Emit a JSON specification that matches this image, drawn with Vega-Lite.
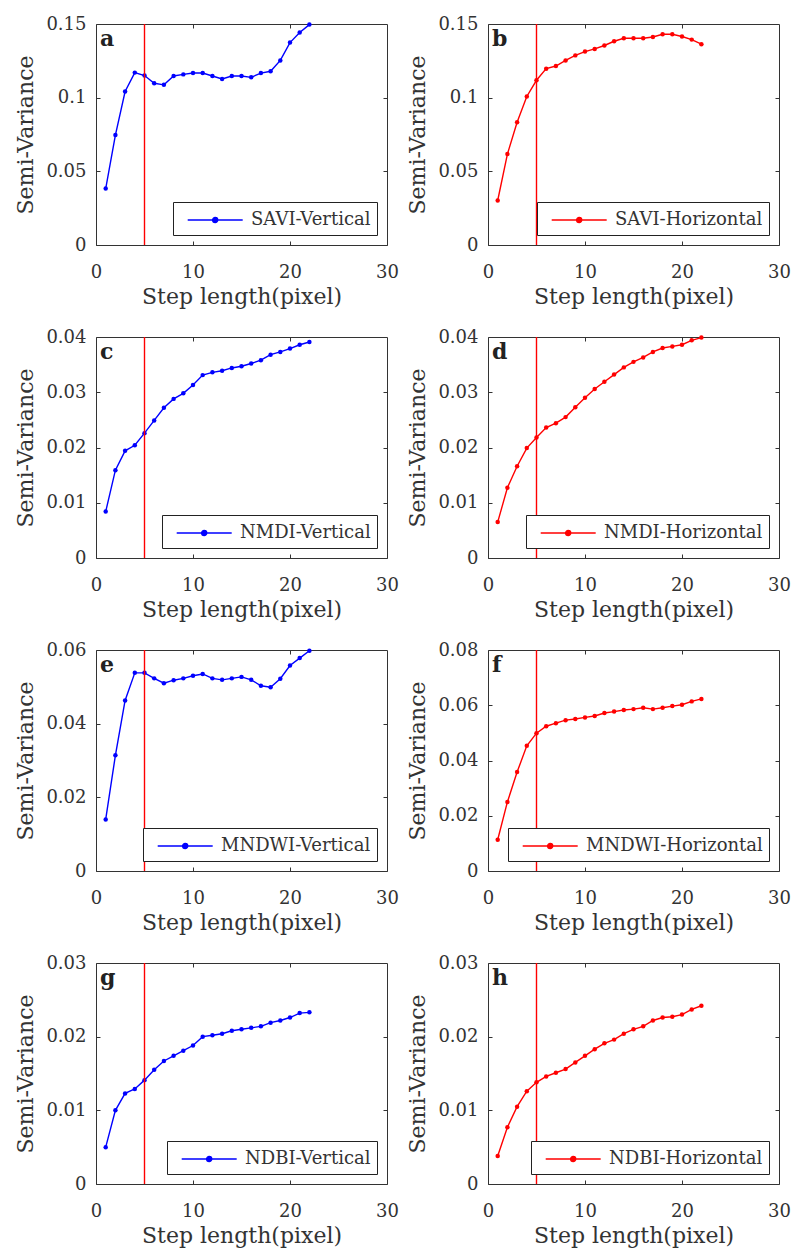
{
"$schema": "https://vega.github.io/schema/vega-lite/v6.json",
"autosize": {"type": "pad"},
"padding": {"left": 14, "top": 14, "right": 2, "bottom": 2},
"background": "white",
"datasets": {
"a": [{"step":1,"sv":0.0383,"series":"SAVI-Vertical"},{"step":2,"sv":0.0746,"series":"SAVI-Vertical"},{"step":3,"sv":0.1042,"series":"SAVI-Vertical"},{"step":4,"sv":0.117,"series":"SAVI-Vertical"},{"step":5,"sv":0.115,"series":"SAVI-Vertical"},{"step":6,"sv":0.1098,"series":"SAVI-Vertical"},{"step":7,"sv":0.1087,"series":"SAVI-Vertical"},{"step":8,"sv":0.1147,"series":"SAVI-Vertical"},{"step":9,"sv":0.1158,"series":"SAVI-Vertical"},{"step":10,"sv":0.1167,"series":"SAVI-Vertical"},{"step":11,"sv":0.1167,"series":"SAVI-Vertical"},{"step":12,"sv":0.1147,"series":"SAVI-Vertical"},{"step":13,"sv":0.1127,"series":"SAVI-Vertical"},{"step":14,"sv":0.1147,"series":"SAVI-Vertical"},{"step":15,"sv":0.1147,"series":"SAVI-Vertical"},{"step":16,"sv":0.1138,"series":"SAVI-Vertical"},{"step":17,"sv":0.1167,"series":"SAVI-Vertical"},{"step":18,"sv":0.1179,"series":"SAVI-Vertical"},{"step":19,"sv":0.1253,"series":"SAVI-Vertical"},{"step":20,"sv":0.1374,"series":"SAVI-Vertical"},{"step":21,"sv":0.1442,"series":"SAVI-Vertical"},{"step":22,"sv":0.1496,"series":"SAVI-Vertical"}],
"b": [{"step":1,"sv":0.0302,"series":"SAVI-Horizontal"},{"step":2,"sv":0.0617,"series":"SAVI-Horizontal"},{"step":3,"sv":0.0833,"series":"SAVI-Horizontal"},{"step":4,"sv":0.1008,"series":"SAVI-Horizontal"},{"step":5,"sv":0.1118,"series":"SAVI-Horizontal"},{"step":6,"sv":0.1197,"series":"SAVI-Horizontal"},{"step":7,"sv":0.1215,"series":"SAVI-Horizontal"},{"step":8,"sv":0.1253,"series":"SAVI-Horizontal"},{"step":9,"sv":0.1287,"series":"SAVI-Horizontal"},{"step":10,"sv":0.1313,"series":"SAVI-Horizontal"},{"step":11,"sv":0.1331,"series":"SAVI-Horizontal"},{"step":12,"sv":0.1354,"series":"SAVI-Horizontal"},{"step":13,"sv":0.1383,"series":"SAVI-Horizontal"},{"step":14,"sv":0.1403,"series":"SAVI-Horizontal"},{"step":15,"sv":0.1403,"series":"SAVI-Horizontal"},{"step":16,"sv":0.1403,"series":"SAVI-Horizontal"},{"step":17,"sv":0.1412,"series":"SAVI-Horizontal"},{"step":18,"sv":0.143,"series":"SAVI-Horizontal"},{"step":19,"sv":0.143,"series":"SAVI-Horizontal"},{"step":20,"sv":0.1415,"series":"SAVI-Horizontal"},{"step":21,"sv":0.1394,"series":"SAVI-Horizontal"},{"step":22,"sv":0.1363,"series":"SAVI-Horizontal"}],
"c": [{"step":1,"sv":0.0084,"series":"NMDI-Vertical"},{"step":2,"sv":0.0159,"series":"NMDI-Vertical"},{"step":3,"sv":0.0194,"series":"NMDI-Vertical"},{"step":4,"sv":0.0204,"series":"NMDI-Vertical"},{"step":5,"sv":0.0226,"series":"NMDI-Vertical"},{"step":6,"sv":0.0249,"series":"NMDI-Vertical"},{"step":7,"sv":0.0272,"series":"NMDI-Vertical"},{"step":8,"sv":0.0288,"series":"NMDI-Vertical"},{"step":9,"sv":0.0298,"series":"NMDI-Vertical"},{"step":10,"sv":0.0313,"series":"NMDI-Vertical"},{"step":11,"sv":0.0331,"series":"NMDI-Vertical"},{"step":12,"sv":0.0336,"series":"NMDI-Vertical"},{"step":13,"sv":0.0339,"series":"NMDI-Vertical"},{"step":14,"sv":0.0344,"series":"NMDI-Vertical"},{"step":15,"sv":0.0347,"series":"NMDI-Vertical"},{"step":16,"sv":0.0352,"series":"NMDI-Vertical"},{"step":17,"sv":0.0358,"series":"NMDI-Vertical"},{"step":18,"sv":0.0368,"series":"NMDI-Vertical"},{"step":19,"sv":0.0373,"series":"NMDI-Vertical"},{"step":20,"sv":0.0379,"series":"NMDI-Vertical"},{"step":21,"sv":0.0386,"series":"NMDI-Vertical"},{"step":22,"sv":0.0391,"series":"NMDI-Vertical"}],
"d": [{"step":1,"sv":0.0065,"series":"NMDI-Horizontal"},{"step":2,"sv":0.0127,"series":"NMDI-Horizontal"},{"step":3,"sv":0.0166,"series":"NMDI-Horizontal"},{"step":4,"sv":0.0199,"series":"NMDI-Horizontal"},{"step":5,"sv":0.0218,"series":"NMDI-Horizontal"},{"step":6,"sv":0.0236,"series":"NMDI-Horizontal"},{"step":7,"sv":0.0244,"series":"NMDI-Horizontal"},{"step":8,"sv":0.0255,"series":"NMDI-Horizontal"},{"step":9,"sv":0.0273,"series":"NMDI-Horizontal"},{"step":10,"sv":0.029,"series":"NMDI-Horizontal"},{"step":11,"sv":0.0306,"series":"NMDI-Horizontal"},{"step":12,"sv":0.0319,"series":"NMDI-Horizontal"},{"step":13,"sv":0.0332,"series":"NMDI-Horizontal"},{"step":14,"sv":0.0345,"series":"NMDI-Horizontal"},{"step":15,"sv":0.0355,"series":"NMDI-Horizontal"},{"step":16,"sv":0.0363,"series":"NMDI-Horizontal"},{"step":17,"sv":0.0373,"series":"NMDI-Horizontal"},{"step":18,"sv":0.038,"series":"NMDI-Horizontal"},{"step":19,"sv":0.0383,"series":"NMDI-Horizontal"},{"step":20,"sv":0.0386,"series":"NMDI-Horizontal"},{"step":21,"sv":0.0394,"series":"NMDI-Horizontal"},{"step":22,"sv":0.0399,"series":"NMDI-Horizontal"}],
"e": [{"step":1,"sv":0.014,"series":"MNDWI-Vertical"},{"step":2,"sv":0.0314,"series":"MNDWI-Vertical"},{"step":3,"sv":0.0463,"series":"MNDWI-Vertical"},{"step":4,"sv":0.0538,"series":"MNDWI-Vertical"},{"step":5,"sv":0.0538,"series":"MNDWI-Vertical"},{"step":6,"sv":0.0523,"series":"MNDWI-Vertical"},{"step":7,"sv":0.051,"series":"MNDWI-Vertical"},{"step":8,"sv":0.0518,"series":"MNDWI-Vertical"},{"step":9,"sv":0.0523,"series":"MNDWI-Vertical"},{"step":10,"sv":0.053,"series":"MNDWI-Vertical"},{"step":11,"sv":0.0535,"series":"MNDWI-Vertical"},{"step":12,"sv":0.0523,"series":"MNDWI-Vertical"},{"step":13,"sv":0.0519,"series":"MNDWI-Vertical"},{"step":14,"sv":0.0523,"series":"MNDWI-Vertical"},{"step":15,"sv":0.0527,"series":"MNDWI-Vertical"},{"step":16,"sv":0.0519,"series":"MNDWI-Vertical"},{"step":17,"sv":0.0503,"series":"MNDWI-Vertical"},{"step":18,"sv":0.0499,"series":"MNDWI-Vertical"},{"step":19,"sv":0.0522,"series":"MNDWI-Vertical"},{"step":20,"sv":0.0558,"series":"MNDWI-Vertical"},{"step":21,"sv":0.0578,"series":"MNDWI-Vertical"},{"step":22,"sv":0.0598,"series":"MNDWI-Vertical"}],
"f": [{"step":1,"sv":0.0113,"series":"MNDWI-Horizontal"},{"step":2,"sv":0.025,"series":"MNDWI-Horizontal"},{"step":3,"sv":0.0358,"series":"MNDWI-Horizontal"},{"step":4,"sv":0.0453,"series":"MNDWI-Horizontal"},{"step":5,"sv":0.0499,"series":"MNDWI-Horizontal"},{"step":6,"sv":0.0524,"series":"MNDWI-Horizontal"},{"step":7,"sv":0.0535,"series":"MNDWI-Horizontal"},{"step":8,"sv":0.0546,"series":"MNDWI-Horizontal"},{"step":9,"sv":0.055,"series":"MNDWI-Horizontal"},{"step":10,"sv":0.0556,"series":"MNDWI-Horizontal"},{"step":11,"sv":0.0561,"series":"MNDWI-Horizontal"},{"step":12,"sv":0.0572,"series":"MNDWI-Horizontal"},{"step":13,"sv":0.0577,"series":"MNDWI-Horizontal"},{"step":14,"sv":0.0583,"series":"MNDWI-Horizontal"},{"step":15,"sv":0.0586,"series":"MNDWI-Horizontal"},{"step":16,"sv":0.0591,"series":"MNDWI-Horizontal"},{"step":17,"sv":0.0586,"series":"MNDWI-Horizontal"},{"step":18,"sv":0.0591,"series":"MNDWI-Horizontal"},{"step":19,"sv":0.0597,"series":"MNDWI-Horizontal"},{"step":20,"sv":0.0602,"series":"MNDWI-Horizontal"},{"step":21,"sv":0.0614,"series":"MNDWI-Horizontal"},{"step":22,"sv":0.0623,"series":"MNDWI-Horizontal"}],
"g": [{"step":1,"sv":0.005,"series":"NDBI-Vertical"},{"step":2,"sv":0.01,"series":"NDBI-Vertical"},{"step":3,"sv":0.0123,"series":"NDBI-Vertical"},{"step":4,"sv":0.0129,"series":"NDBI-Vertical"},{"step":5,"sv":0.0141,"series":"NDBI-Vertical"},{"step":6,"sv":0.0155,"series":"NDBI-Vertical"},{"step":7,"sv":0.0167,"series":"NDBI-Vertical"},{"step":8,"sv":0.0174,"series":"NDBI-Vertical"},{"step":9,"sv":0.0181,"series":"NDBI-Vertical"},{"step":10,"sv":0.0188,"series":"NDBI-Vertical"},{"step":11,"sv":0.02,"series":"NDBI-Vertical"},{"step":12,"sv":0.0202,"series":"NDBI-Vertical"},{"step":13,"sv":0.0204,"series":"NDBI-Vertical"},{"step":14,"sv":0.0208,"series":"NDBI-Vertical"},{"step":15,"sv":0.021,"series":"NDBI-Vertical"},{"step":16,"sv":0.0212,"series":"NDBI-Vertical"},{"step":17,"sv":0.0214,"series":"NDBI-Vertical"},{"step":18,"sv":0.0219,"series":"NDBI-Vertical"},{"step":19,"sv":0.0222,"series":"NDBI-Vertical"},{"step":20,"sv":0.0226,"series":"NDBI-Vertical"},{"step":21,"sv":0.0232,"series":"NDBI-Vertical"},{"step":22,"sv":0.0233,"series":"NDBI-Vertical"}],
"h": [{"step":1,"sv":0.0038,"series":"NDBI-Horizontal"},{"step":2,"sv":0.0077,"series":"NDBI-Horizontal"},{"step":3,"sv":0.0105,"series":"NDBI-Horizontal"},{"step":4,"sv":0.0126,"series":"NDBI-Horizontal"},{"step":5,"sv":0.0138,"series":"NDBI-Horizontal"},{"step":6,"sv":0.0146,"series":"NDBI-Horizontal"},{"step":7,"sv":0.0151,"series":"NDBI-Horizontal"},{"step":8,"sv":0.0156,"series":"NDBI-Horizontal"},{"step":9,"sv":0.0165,"series":"NDBI-Horizontal"},{"step":10,"sv":0.0174,"series":"NDBI-Horizontal"},{"step":11,"sv":0.0183,"series":"NDBI-Horizontal"},{"step":12,"sv":0.0191,"series":"NDBI-Horizontal"},{"step":13,"sv":0.0196,"series":"NDBI-Horizontal"},{"step":14,"sv":0.0204,"series":"NDBI-Horizontal"},{"step":15,"sv":0.021,"series":"NDBI-Horizontal"},{"step":16,"sv":0.0214,"series":"NDBI-Horizontal"},{"step":17,"sv":0.0222,"series":"NDBI-Horizontal"},{"step":18,"sv":0.0226,"series":"NDBI-Horizontal"},{"step":19,"sv":0.0227,"series":"NDBI-Horizontal"},{"step":20,"sv":0.023,"series":"NDBI-Horizontal"},{"step":21,"sv":0.0237,"series":"NDBI-Horizontal"},{"step":22,"sv":0.0242,"series":"NDBI-Horizontal"}]
},
"columns": 2,
"spacing": {"row": 92, "column": 101},
"bounds": "flush",
"resolve": {"scale": {"color": "independent", "x": "independent", "y": "independent"}, "legend": {"color": "independent"}},
"concat": [
{"width": 291, "height": 221, "layer": [
 {"data": {"name": "a"}, "mark": {"type": "line", "strokeWidth": 1.4, "point": {"filled": true, "size": 20}},
  "encoding": {"x": {"field": "step", "type": "quantitative", "scale": {"domain": [0, 30], "nice": false}, "axis": {"values": [0, 10, 20, 30], "title": "Step length(pixel)"}},
   "y": {"field": "sv", "type": "quantitative", "scale": {"domain": [0, 0.15], "nice": false}, "axis": {"values": [0, 0.05, 0.1, 0.15], "format": ".2~f", "title": "Semi-Variance"}},
   "color": {"field": "series", "type": "nominal", "scale": {"range": ["#0000ff"]}, "legend": {"title": null, "symbolFillColor": "#0000ff", "encode": {"symbols": {"update": {"fill": {"value": "#0000ff"}}}}}}}},
 {"data": {"values": [{}]}, "mark": {"type": "rule", "color": "#ff0000", "strokeWidth": 1.4}, "encoding": {"x": {"datum": 5, "type": "quantitative", "scale": {"domain": [0, 30], "nice": false}, "axis": null}}},
 {"data": {"values": [{"label": "a"}]}, "mark": {"type": "text", "align": "left", "baseline": "top", "fontWeight": "bold", "fontSize": 22, "dx": 4, "dy": 5, "color": "#222"},
  "encoding": {"text": {"field": "label"}, "x": {"datum": 0, "type": "quantitative", "scale": {"domain": [0, 30], "nice": false}, "axis": {"orient": "top", "labels": false, "title": null, "values": [10, 20]}}, "y": {"datum": 0.15, "type": "quantitative", "scale": {"domain": [0, 0.15], "nice": false}, "axis": {"orient": "right", "labels": false, "title": null, "values": [0.05, 0.1]}}}}
 ], "resolve": {"axis": {"x": "independent", "y": "independent"}}},
{"width": 291, "height": 221, "layer": [
 {"data": {"name": "b"}, "mark": {"type": "line", "strokeWidth": 1.4, "point": {"filled": true, "size": 20}},
  "encoding": {"x": {"field": "step", "type": "quantitative", "scale": {"domain": [0, 30], "nice": false}, "axis": {"values": [0, 10, 20, 30], "title": "Step length(pixel)"}},
   "y": {"field": "sv", "type": "quantitative", "scale": {"domain": [0, 0.15], "nice": false}, "axis": {"values": [0, 0.05, 0.1, 0.15], "format": ".2~f", "title": "Semi-Variance"}},
   "color": {"field": "series", "type": "nominal", "scale": {"range": ["#ff0000"]}, "legend": {"title": null, "symbolFillColor": "#ff0000", "encode": {"symbols": {"update": {"fill": {"value": "#ff0000"}}}}}}}},
 {"data": {"values": [{}]}, "mark": {"type": "rule", "color": "#ff0000", "strokeWidth": 1.4}, "encoding": {"x": {"datum": 5, "type": "quantitative", "scale": {"domain": [0, 30], "nice": false}, "axis": null}}},
 {"data": {"values": [{"label": "b"}]}, "mark": {"type": "text", "align": "left", "baseline": "top", "fontWeight": "bold", "fontSize": 22, "dx": 4, "dy": 5, "color": "#222"},
  "encoding": {"text": {"field": "label"}, "x": {"datum": 0, "type": "quantitative", "scale": {"domain": [0, 30], "nice": false}, "axis": {"orient": "top", "labels": false, "title": null, "values": [10, 20]}}, "y": {"datum": 0.15, "type": "quantitative", "scale": {"domain": [0, 0.15], "nice": false}, "axis": {"orient": "right", "labels": false, "title": null, "values": [0.05, 0.1]}}}}
 ], "resolve": {"axis": {"x": "independent", "y": "independent"}}},
{"width": 291, "height": 221, "layer": [
 {"data": {"name": "c"}, "mark": {"type": "line", "strokeWidth": 1.4, "point": {"filled": true, "size": 20}},
  "encoding": {"x": {"field": "step", "type": "quantitative", "scale": {"domain": [0, 30], "nice": false}, "axis": {"values": [0, 10, 20, 30], "title": "Step length(pixel)"}},
   "y": {"field": "sv", "type": "quantitative", "scale": {"domain": [0, 0.04], "nice": false}, "axis": {"values": [0, 0.01, 0.02, 0.03, 0.04], "format": ".2~f", "title": "Semi-Variance"}},
   "color": {"field": "series", "type": "nominal", "scale": {"range": ["#0000ff"]}, "legend": {"title": null, "symbolFillColor": "#0000ff", "encode": {"symbols": {"update": {"fill": {"value": "#0000ff"}}}}}}}},
 {"data": {"values": [{}]}, "mark": {"type": "rule", "color": "#ff0000", "strokeWidth": 1.4}, "encoding": {"x": {"datum": 5, "type": "quantitative", "scale": {"domain": [0, 30], "nice": false}, "axis": null}}},
 {"data": {"values": [{"label": "c"}]}, "mark": {"type": "text", "align": "left", "baseline": "top", "fontWeight": "bold", "fontSize": 22, "dx": 4, "dy": 5, "color": "#222"},
  "encoding": {"text": {"field": "label"}, "x": {"datum": 0, "type": "quantitative", "scale": {"domain": [0, 30], "nice": false}, "axis": {"orient": "top", "labels": false, "title": null, "values": [10, 20]}}, "y": {"datum": 0.04, "type": "quantitative", "scale": {"domain": [0, 0.04], "nice": false}, "axis": {"orient": "right", "labels": false, "title": null, "values": [0.01, 0.02, 0.03]}}}}
 ], "resolve": {"axis": {"x": "independent", "y": "independent"}}},
{"width": 291, "height": 221, "layer": [
 {"data": {"name": "d"}, "mark": {"type": "line", "strokeWidth": 1.4, "point": {"filled": true, "size": 20}},
  "encoding": {"x": {"field": "step", "type": "quantitative", "scale": {"domain": [0, 30], "nice": false}, "axis": {"values": [0, 10, 20, 30], "title": "Step length(pixel)"}},
   "y": {"field": "sv", "type": "quantitative", "scale": {"domain": [0, 0.04], "nice": false}, "axis": {"values": [0, 0.01, 0.02, 0.03, 0.04], "format": ".2~f", "title": "Semi-Variance"}},
   "color": {"field": "series", "type": "nominal", "scale": {"range": ["#ff0000"]}, "legend": {"title": null, "symbolFillColor": "#ff0000", "encode": {"symbols": {"update": {"fill": {"value": "#ff0000"}}}}}}}},
 {"data": {"values": [{}]}, "mark": {"type": "rule", "color": "#ff0000", "strokeWidth": 1.4}, "encoding": {"x": {"datum": 5, "type": "quantitative", "scale": {"domain": [0, 30], "nice": false}, "axis": null}}},
 {"data": {"values": [{"label": "d"}]}, "mark": {"type": "text", "align": "left", "baseline": "top", "fontWeight": "bold", "fontSize": 22, "dx": 4, "dy": 5, "color": "#222"},
  "encoding": {"text": {"field": "label"}, "x": {"datum": 0, "type": "quantitative", "scale": {"domain": [0, 30], "nice": false}, "axis": {"orient": "top", "labels": false, "title": null, "values": [10, 20]}}, "y": {"datum": 0.04, "type": "quantitative", "scale": {"domain": [0, 0.04], "nice": false}, "axis": {"orient": "right", "labels": false, "title": null, "values": [0.01, 0.02, 0.03]}}}}
 ], "resolve": {"axis": {"x": "independent", "y": "independent"}}},
{"width": 291, "height": 221, "layer": [
 {"data": {"name": "e"}, "mark": {"type": "line", "strokeWidth": 1.4, "point": {"filled": true, "size": 20}},
  "encoding": {"x": {"field": "step", "type": "quantitative", "scale": {"domain": [0, 30], "nice": false}, "axis": {"values": [0, 10, 20, 30], "title": "Step length(pixel)"}},
   "y": {"field": "sv", "type": "quantitative", "scale": {"domain": [0, 0.06], "nice": false}, "axis": {"values": [0, 0.02, 0.04, 0.06], "format": ".2~f", "title": "Semi-Variance"}},
   "color": {"field": "series", "type": "nominal", "scale": {"range": ["#0000ff"]}, "legend": {"title": null, "symbolFillColor": "#0000ff", "encode": {"symbols": {"update": {"fill": {"value": "#0000ff"}}}}}}}},
 {"data": {"values": [{}]}, "mark": {"type": "rule", "color": "#ff0000", "strokeWidth": 1.4}, "encoding": {"x": {"datum": 5, "type": "quantitative", "scale": {"domain": [0, 30], "nice": false}, "axis": null}}},
 {"data": {"values": [{"label": "e"}]}, "mark": {"type": "text", "align": "left", "baseline": "top", "fontWeight": "bold", "fontSize": 22, "dx": 4, "dy": 5, "color": "#222"},
  "encoding": {"text": {"field": "label"}, "x": {"datum": 0, "type": "quantitative", "scale": {"domain": [0, 30], "nice": false}, "axis": {"orient": "top", "labels": false, "title": null, "values": [10, 20]}}, "y": {"datum": 0.06, "type": "quantitative", "scale": {"domain": [0, 0.06], "nice": false}, "axis": {"orient": "right", "labels": false, "title": null, "values": [0.02, 0.04]}}}}
 ], "resolve": {"axis": {"x": "independent", "y": "independent"}}},
{"width": 291, "height": 221, "layer": [
 {"data": {"name": "f"}, "mark": {"type": "line", "strokeWidth": 1.4, "point": {"filled": true, "size": 20}},
  "encoding": {"x": {"field": "step", "type": "quantitative", "scale": {"domain": [0, 30], "nice": false}, "axis": {"values": [0, 10, 20, 30], "title": "Step length(pixel)"}},
   "y": {"field": "sv", "type": "quantitative", "scale": {"domain": [0, 0.08], "nice": false}, "axis": {"values": [0, 0.02, 0.04, 0.06, 0.08], "format": ".2~f", "title": "Semi-Variance"}},
   "color": {"field": "series", "type": "nominal", "scale": {"range": ["#ff0000"]}, "legend": {"title": null, "symbolFillColor": "#ff0000", "encode": {"symbols": {"update": {"fill": {"value": "#ff0000"}}}}}}}},
 {"data": {"values": [{}]}, "mark": {"type": "rule", "color": "#ff0000", "strokeWidth": 1.4}, "encoding": {"x": {"datum": 5, "type": "quantitative", "scale": {"domain": [0, 30], "nice": false}, "axis": null}}},
 {"data": {"values": [{"label": "f"}]}, "mark": {"type": "text", "align": "left", "baseline": "top", "fontWeight": "bold", "fontSize": 22, "dx": 4, "dy": 5, "color": "#222"},
  "encoding": {"text": {"field": "label"}, "x": {"datum": 0, "type": "quantitative", "scale": {"domain": [0, 30], "nice": false}, "axis": {"orient": "top", "labels": false, "title": null, "values": [10, 20]}}, "y": {"datum": 0.08, "type": "quantitative", "scale": {"domain": [0, 0.08], "nice": false}, "axis": {"orient": "right", "labels": false, "title": null, "values": [0.02, 0.04, 0.06]}}}}
 ], "resolve": {"axis": {"x": "independent", "y": "independent"}}},
{"width": 291, "height": 221, "layer": [
 {"data": {"name": "g"}, "mark": {"type": "line", "strokeWidth": 1.4, "point": {"filled": true, "size": 20}},
  "encoding": {"x": {"field": "step", "type": "quantitative", "scale": {"domain": [0, 30], "nice": false}, "axis": {"values": [0, 10, 20, 30], "title": "Step length(pixel)"}},
   "y": {"field": "sv", "type": "quantitative", "scale": {"domain": [0, 0.03], "nice": false}, "axis": {"values": [0, 0.01, 0.02, 0.03], "format": ".2~f", "title": "Semi-Variance"}},
   "color": {"field": "series", "type": "nominal", "scale": {"range": ["#0000ff"]}, "legend": {"title": null, "symbolFillColor": "#0000ff", "encode": {"symbols": {"update": {"fill": {"value": "#0000ff"}}}}}}}},
 {"data": {"values": [{}]}, "mark": {"type": "rule", "color": "#ff0000", "strokeWidth": 1.4}, "encoding": {"x": {"datum": 5, "type": "quantitative", "scale": {"domain": [0, 30], "nice": false}, "axis": null}}},
 {"data": {"values": [{"label": "g"}]}, "mark": {"type": "text", "align": "left", "baseline": "top", "fontWeight": "bold", "fontSize": 22, "dx": 4, "dy": 5, "color": "#222"},
  "encoding": {"text": {"field": "label"}, "x": {"datum": 0, "type": "quantitative", "scale": {"domain": [0, 30], "nice": false}, "axis": {"orient": "top", "labels": false, "title": null, "values": [10, 20]}}, "y": {"datum": 0.03, "type": "quantitative", "scale": {"domain": [0, 0.03], "nice": false}, "axis": {"orient": "right", "labels": false, "title": null, "values": [0.01, 0.02]}}}}
 ], "resolve": {"axis": {"x": "independent", "y": "independent"}}},
{"width": 291, "height": 221, "layer": [
 {"data": {"name": "h"}, "mark": {"type": "line", "strokeWidth": 1.4, "point": {"filled": true, "size": 20}},
  "encoding": {"x": {"field": "step", "type": "quantitative", "scale": {"domain": [0, 30], "nice": false}, "axis": {"values": [0, 10, 20, 30], "title": "Step length(pixel)"}},
   "y": {"field": "sv", "type": "quantitative", "scale": {"domain": [0, 0.03], "nice": false}, "axis": {"values": [0, 0.01, 0.02, 0.03], "format": ".2~f", "title": "Semi-Variance"}},
   "color": {"field": "series", "type": "nominal", "scale": {"range": ["#ff0000"]}, "legend": {"title": null, "symbolFillColor": "#ff0000", "encode": {"symbols": {"update": {"fill": {"value": "#ff0000"}}}}}}}},
 {"data": {"values": [{}]}, "mark": {"type": "rule", "color": "#ff0000", "strokeWidth": 1.4}, "encoding": {"x": {"datum": 5, "type": "quantitative", "scale": {"domain": [0, 30], "nice": false}, "axis": null}}},
 {"data": {"values": [{"label": "h"}]}, "mark": {"type": "text", "align": "left", "baseline": "top", "fontWeight": "bold", "fontSize": 22, "dx": 4, "dy": 5, "color": "#222"},
  "encoding": {"text": {"field": "label"}, "x": {"datum": 0, "type": "quantitative", "scale": {"domain": [0, 30], "nice": false}, "axis": {"orient": "top", "labels": false, "title": null, "values": [10, 20]}}, "y": {"datum": 0.03, "type": "quantitative", "scale": {"domain": [0, 0.03], "nice": false}, "axis": {"orient": "right", "labels": false, "title": null, "values": [0.01, 0.02]}}}}
 ], "resolve": {"axis": {"x": "independent", "y": "independent"}}}
],
"config": {
 "font": "DejaVu Serif",
 "view": {"stroke": "#333333", "strokeWidth": 1},
 "axis": {"domain": false, "grid": false, "tickSize": -4, "tickColor": "#333333", "tickWidth": 1, "labelColor": "#333333", "labelFontSize": 18, "labelFont": "DejaVu Serif", "labelFlush": false, "labelOverlap": false, "labelPadding": 10, "titleFont": "DejaVu Serif", "titleFontSize": 22, "titleFontWeight": "normal", "titleColor": "#333333"},
 "axisX": {"labelPadding": 22, "titlePadding": 5},
 "axisY": {"labelPadding": 14, "titlePadding": 8},
 "legend": {"orient": "bottom-right", "offset": 10, "padding": 6, "strokeColor": "#222222", "fillColor": "#ffffff", "cornerRadius": 0, "symbolType": "M-0.3,0H4.7M2.43,0A0.23,0.23,0,1,1,1.97,0A0.23,0.23,0,1,1,2.43,0Z", "symbolSize": 484, "symbolStrokeWidth": 1.4, "labelFont": "DejaVu Serif", "labelFontSize": 18, "labelColor": "#333333", "labelOffset": 48, "labelLimit": 400}
}
}
